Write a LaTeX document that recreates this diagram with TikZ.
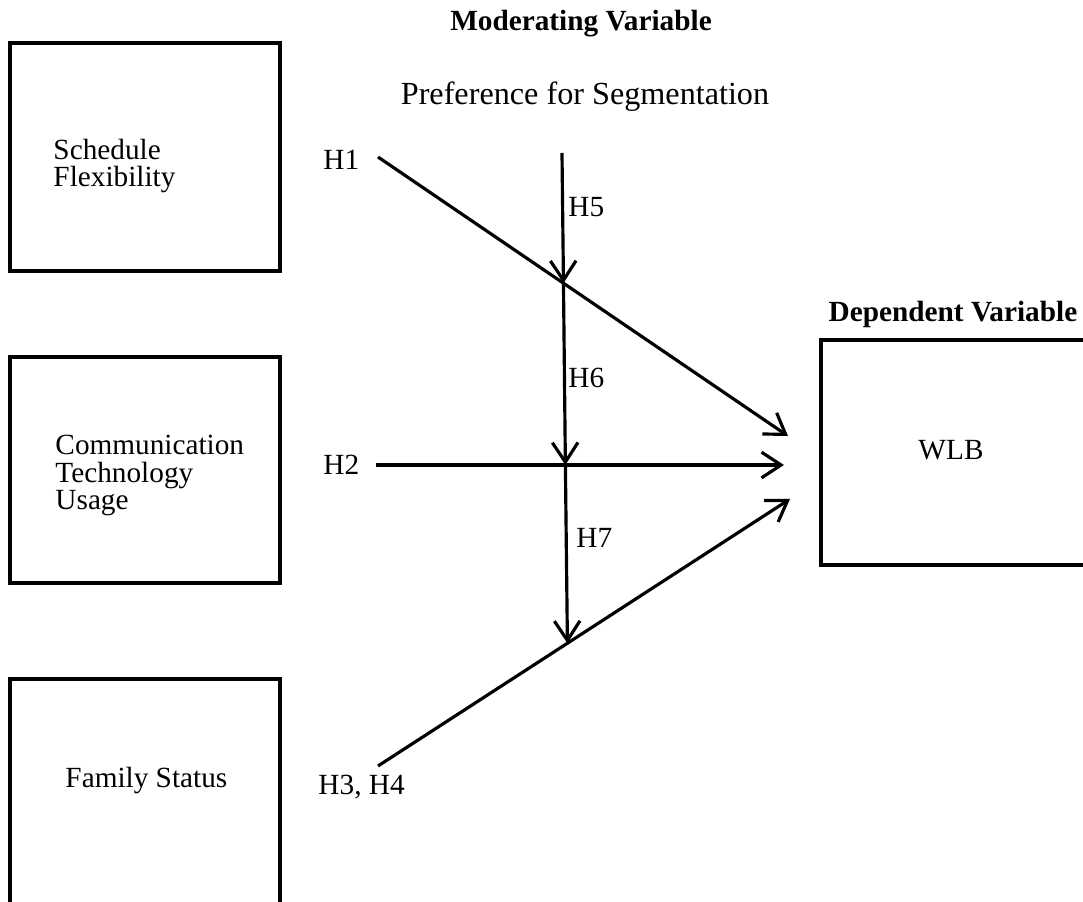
\documentclass[tikz,border=0pt]{standalone}
\usepackage{fontspec}
\setmainfont{Liberation Serif}
\usetikzlibrary{arrows.meta}

\tikzset{
  box/.style={draw, line width=1.4pt, inner sep=0pt, minimum width=110.7pt},
  lbl/.style={inner sep=0pt, font=\fontsize{12}{11.3}\selectfont},
  ttl/.style={inner sep=0pt, font=\fontsize{12}{14}\selectfont\bfseries},
  path/.style={line width=1.3pt, -{Straight Barb[length=8pt,width=10.5pt]}}
}

\begin{document}
\begin{tikzpicture}[x=0.41pt, y=-0.41pt]
    \useasboundingbox (0,0) rectangle (1083,902);
    \clip (0,0) rectangle (1083,902);

    % independent variables
    \node[box, minimum height=93.5pt] (sf) at (145,157) {};
    \node[box, minimum height=92.7pt] (ctu) at (145,470) {};
    \node[box, minimum height=107pt] (fs) at (145,809.5) {};
    \node[lbl, anchor=base west, align=left] (sfl) at (53,187) {Schedule\\Flexibility};
    \node[lbl, anchor=base west, align=left] (ctul) at (55,510) {Communication\\Technology\\Usage};
    \node[lbl, anchor=base west] (fsl) at (65,788) {Family Status};

    % dependent variable
    \node[ttl, anchor=base] (dept) at (953,322) {Dependent Variable};
    \node[box, minimum width=114.4pt, minimum height=92.3pt] (wlb) at (960.5,452.5) {};
    \node[lbl, anchor=base] (wlbl) at (951,460) {WLB};

    % moderator
    \node[ttl, anchor=base] (modt) at (581,31) {Moderating Variable};
    \node[lbl, anchor=base, font=\fontsize{13.2}{15}\selectfont] (preft) at (585,105) {Preference for Segmentation};

    % hypotheses
    \node[lbl, anchor=base west] (h1) at (323,170) {H1};
    \node[lbl, anchor=base west] (h2) at (323,475) {H2};
    \node[lbl, anchor=base west] (h34) at (318,795) {H3, H4};
    \node[lbl, anchor=base west] (h5) at (568,217) {H5};
    \node[lbl, anchor=base west] (h6) at (568,388) {H6};
    \node[lbl, anchor=base west] (h7) at (576,548) {H7};

    \coordinate (h1s) at (378,157);
    \coordinate (h1t) at (788,436);
    \coordinate (h2s) at (376,465);
    \coordinate (h2t) at (784,465);
    \coordinate (h3s) at (378,766);
    \coordinate (h3t) at (790,499);
    \coordinate (m0) at (562,153);
    \coordinate (mb) at (568,700);
    \coordinate (m1) at (intersection of m0--mb and h1s--h1t);
    \coordinate (m2) at (intersection of m0--mb and h2s--h2t);
    \coordinate (m3) at (intersection of m0--mb and h3s--h3t);

    \draw[path] (h1s) -- (h1t);
    \draw[path] (h2s) -- (h2t);
    \draw[path] (h3s) -- (h3t);
    \draw[path] (m0) -- (m1);
    \draw[path] (m1) -- (m2);
    \draw[path] (m2) -- (m3);
\end{tikzpicture}
\end{document}
